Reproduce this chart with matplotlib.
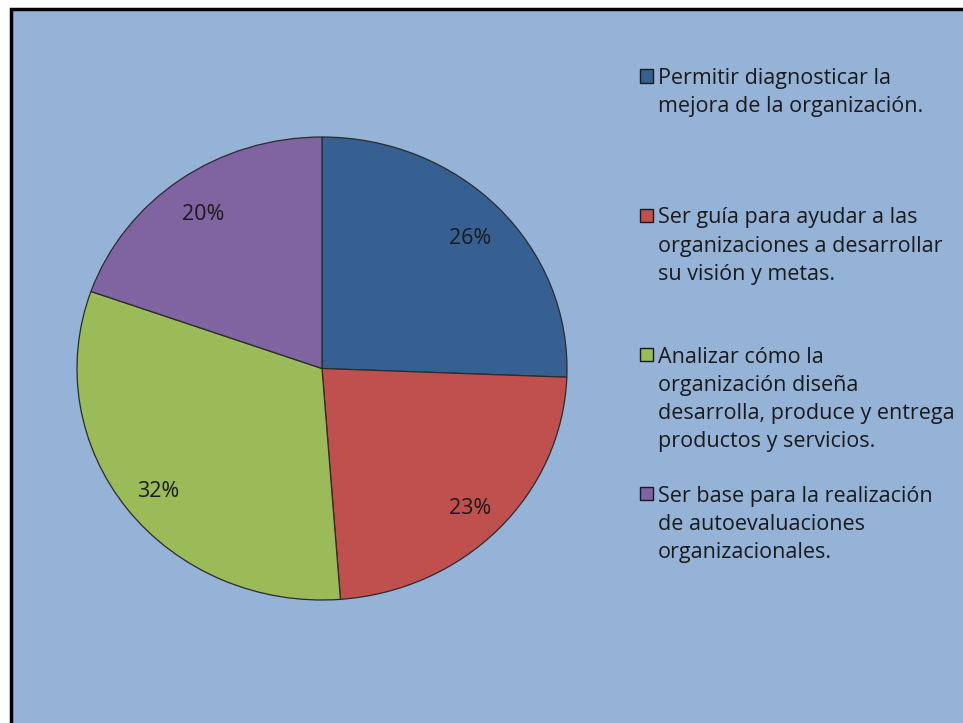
import matplotlib.pyplot as plt
from matplotlib.patches import Rectangle
from matplotlib.transforms import offset_copy

# datos del gráfico
categorias = [
    "Permitir diagnosticar la\nmejora de la organización.",
    "Ser guía para ayudar a las\norganizaciones a desarrollar\nsu visión y metas.",
    "Analizar cómo la\norganización diseña\ndesarrolla, produce y entrega\nproductos y servicios.",
    "Ser base para la realización\nde autoevaluaciones\norganizacionales.",
]
porcentajes = [25.6, 23.2, 31.6, 19.6]
colores = ["#376092", "#C0504D", "#9BBB59", "#8064A2"]

plt.rcParams["font.family"] = ["Open Sans", "DejaVu Sans"]

fig = plt.figure(figsize=(9.63, 7.23), dpi=100, facecolor="white")

# fondo azul con borde negro
W, H = 963, 723
fondo = Rectangle((11 / W, -0.1), 1.2, 1.1 - 9 / H, transform=fig.transFigure,
                  facecolor="#95B3D7", edgecolor="black", linewidth=2.5, zorder=-5)
fig.patches.append(fondo)

ax = fig.add_axes([77 / W, 1 - 600 / H, 490 / W, 463 / H])
ax.set_zorder(2)
wedges, textos, autotextos = ax.pie(
    porcentajes, colors=colores, startangle=90, counterclock=False,
    autopct=lambda p: "%.0f%%" % p, pctdistance=0.84,
    wedgeprops=dict(edgecolor="#2b2b2b", linewidth=0.9),
    textprops=dict(fontsize=15.5, color="#1a1a1a"))
ax.set_aspect("auto")
ax.set_xlim(-1, 1)
ax.set_ylim(-1, 1)
ax.axis("off")
# bajar un poco las etiquetas de porcentaje
for t in autotextos:
    t.set_transform(offset_copy(ax.transData, fig=fig, x=0, y=-5, units="dots"))

# leyenda a mano
y0 = 76
paso = 139.3
for i, (texto, color) in enumerate(zip(categorias, colores)):
    y = y0 + i * paso
    fig.patches.append(Rectangle((640 / W, 1 - (y + 6.5) / H), 13 / W, 13 / H,
                                 transform=fig.transFigure, facecolor=color,
                                 edgecolor="#1a1a1a", linewidth=1, zorder=3))
    fig.text(658 / W, 1 - (y - 8) / H, texto, fontsize=15.5, color="#1a1a1a",
             va="top", ha="left", linespacing=1.45)

fig.savefig("out.png", dpi=100)
